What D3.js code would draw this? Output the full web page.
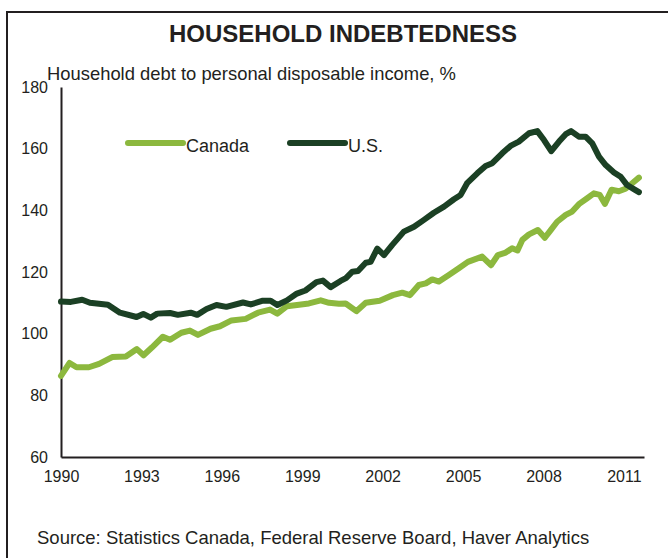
<!DOCTYPE html>
<html>
<head>
<meta charset="utf-8">
<script src="https://cdn.jsdelivr.net/npm/d3@7"></script>
<style>
  html, body { margin: 0; padding: 0; background: #fff; }
  svg { display: block; }
  text { font-family: "Liberation Sans", Arial, sans-serif; fill: #231f20; }
</style>
</head>
<body>
<svg id="chart" width="668" height="558"></svg>
<script>
const title = "HOUSEHOLD INDEBTEDNESS";
const subtitle = "Household debt to personal disposable income, %";
const source = "Source: Statistics Canada, Federal Reserve Board, Haver Analytics";
const seriesNames = ["Canada", "U.S."];
const seriesColors = ["#8cb83e", "#1b4024"];
const yTicks = [60, 80, 100, 120, 140, 160, 180];
const xTicks = [1990, 1993, 1996, 1999, 2002, 2005, 2008, 2011];

const canadaDates = [1990.00,1990.32,1990.58,1991.04,1991.42,1991.91,1992.42,1992.83,1993.08,1993.39,1993.80,1994.07,1994.49,1994.81,1995.11,1995.58,1995.93,1996.36,1996.89,1997.35,1997.80,1998.07,1998.43,1998.88,1999.25,1999.69,2000.00,2000.37,2000.62,2001.02,2001.37,2001.89,2002.38,2002.73,2003.02,2003.35,2003.61,2003.85,2004.10,2004.47,2004.84,2005.18,2005.71,2006.04,2006.30,2006.59,2006.83,2007.03,2007.21,2007.46,2007.79,2008.05,2008.27,2008.51,2008.83,2009.07,2009.32,2009.63,2009.88,2010.10,2010.29,2010.54,2010.81,2011.06,2011.31,2011.56];
const canadaValues = [86.3,90.5,89.1,89.1,90.2,92.4,92.6,95.0,93.0,95.5,99.0,98.0,100.3,101.0,99.6,101.6,102.4,104.3,104.8,106.8,107.8,106.5,108.9,109.4,109.8,110.8,110.0,109.7,109.8,107.3,110.0,110.7,112.5,113.3,112.5,115.8,116.3,117.6,116.9,119.0,121.2,123.3,125.0,122.2,125.5,126.3,127.7,127.0,130.4,132.2,133.6,131.1,133.6,136.3,138.5,139.6,142.0,143.9,145.5,145.0,142.1,146.7,146.2,147.0,148.8,150.6];

const usDates = [1990.00,1990.37,1990.79,1991.08,1991.75,1992.20,1992.82,1993.07,1993.35,1993.59,1994.07,1994.36,1994.84,1995.08,1995.43,1995.80,1996.17,1996.79,1997.08,1997.53,1997.82,1998.07,1998.43,1998.80,1999.12,1999.53,1999.77,2000.06,2000.43,2000.63,2000.87,2001.08,2001.37,2001.55,2001.80,2002.05,2002.36,2002.79,2003.17,2003.54,2003.91,2004.29,2004.66,2004.91,2005.15,2005.53,2005.84,2006.09,2006.46,2006.77,2007.08,2007.46,2007.77,2008.02,2008.29,2008.58,2008.83,2009.03,2009.32,2009.57,2009.82,2010.07,2010.32,2010.63,2010.88,2011.12,2011.37,2011.56];
const usValues = [110.4,110.3,111.0,110.0,109.4,106.8,105.4,106.4,105.2,106.5,106.7,106.1,106.8,106.1,108.0,109.3,108.7,110.1,109.5,110.7,110.7,109.3,110.8,113.0,114.0,116.7,117.2,115.1,117.1,118.0,120.1,120.3,123.0,123.3,127.6,125.5,128.8,133.1,134.7,136.9,139.2,141.2,143.6,145.0,148.8,152.0,154.4,155.3,158.5,160.9,162.3,165.0,165.7,162.8,159.2,162.3,164.7,165.7,163.9,163.9,161.7,157.4,154.7,152.3,150.9,148.2,146.9,145.9];

const svg = d3.select("#chart");
const ink = "#231f20";

// frame
svg.append("path")
  .attr("d", "M7,560V12H670")
  .attr("fill", "none").attr("stroke", ink).attr("stroke-width", 2);

svg.append("text").attr("x", 343).attr("y", 42)
  .attr("text-anchor", "middle").attr("font-weight", "bold").attr("font-size", 24)
  .text(title);
svg.append("text").attr("x", 47).attr("y", 80).attr("font-size", 18.4).text(subtitle);
svg.append("text").attr("x", 37).attr("y", 544).attr("font-size", 18.5).text(source);

const x = d3.scaleLinear().domain([1990, 2011.75]).range([61, 644]);
const y = d3.scaleLinear().domain([60, 180]).range([457, 87]);

// axes
const yAxis = svg.append("g").attr("transform", "translate(61,0)")
  .call(d3.axisLeft(y).tickValues(yTicks).tickSize(0).tickPadding(13).tickFormat(d3.format("d")));
yAxis.select(".domain").attr("stroke", ink).attr("stroke-width", 2);
yAxis.selectAll("text").attr("font-size", 16).attr("fill", ink)
  .style("font-family", '"Liberation Sans", Arial, sans-serif');

const xAxis = svg.append("g").attr("transform", "translate(0,457)")
  .call(d3.axisBottom(x).tickValues(xTicks).tickSize(0).tickPadding(14).tickFormat(d3.format("d")));
xAxis.select(".domain").attr("stroke", ink).attr("stroke-width", 2);
xAxis.selectAll("text").attr("font-size", 16).attr("fill", ink)
  .style("font-family", '"Liberation Sans", Arial, sans-serif');

const line = d3.line().x(d => x(d[0])).y(d => y(d[1]));
const canada = d3.zip(canadaDates, canadaValues);
const us = d3.zip(usDates, usValues);

[[canada, 0], [us, 1]].forEach(([data, i]) => {
  svg.append("path").datum(data)
    .attr("d", line)
    .attr("fill", "none")
    .attr("stroke", seriesColors[i])
    .attr("stroke-width", 6)
    .attr("stroke-linejoin", "round")
    .attr("stroke-linecap", "round");
});

// legend
const legendX = [128, 290];
seriesNames.forEach((name, i) => {
  const g = svg.append("g").attr("transform", `translate(${legendX[i]},143)`);
  g.append("line").attr("x1", 0).attr("x2", 55).attr("y1", 0).attr("y2", 0)
    .attr("stroke", seriesColors[i]).attr("stroke-width", 6).attr("stroke-linecap", "round");
  g.append("text").attr("x", 58).attr("y", 9).attr("font-size", 18).text(name);
});
</script>
</body>
</html>
